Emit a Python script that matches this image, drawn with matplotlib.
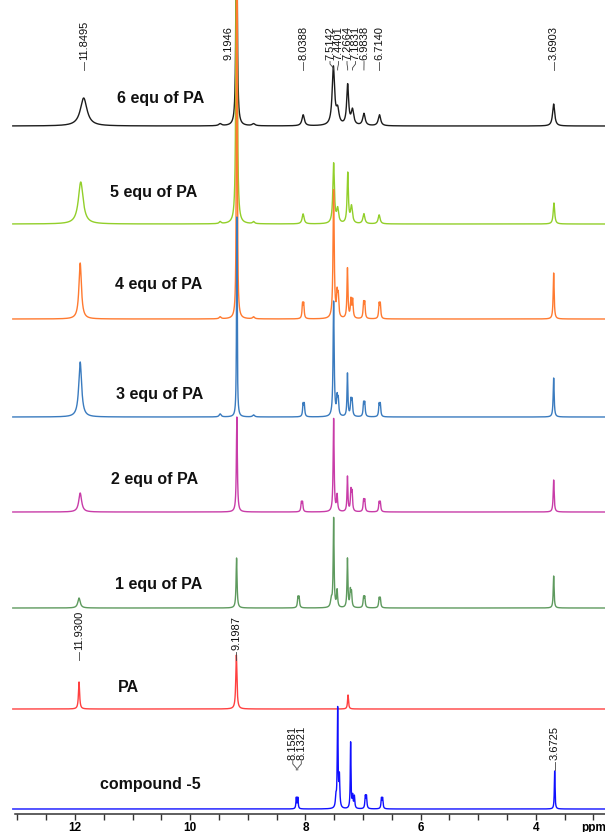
import numpy as np
import matplotlib
matplotlib.use("Agg")
import matplotlib.pyplot as plt

plt.rcParams['font.family'] = ['Liberation Sans', 'DejaVu Sans']

# ---------------- spectra (chemical shift in ppm, intensity, half-width in ppm) ----------------
trace_names = ["6 equ of PA", "5 equ of PA", "4 equ of PA", "3 equ of PA",
               "2 equ of PA", "1 equ of PA", "PA", "compound -5"]

shifts_6eq = [11.8495, 9.48, 9.1946, 8.90, 8.0388, 7.5142, 7.4401, 7.2664, 7.1831, 6.9838, 6.7140, 3.6903]
heights_6eq = [28, 2, 400, 2, 11, 58, 14, 40, 15, 12, 11, 22]
widths_6eq = [0.070, 0.03, 0.009, 0.03, 0.025, 0.025, 0.028, 0.020, 0.026, 0.025, 0.025, 0.022]

shifts_5eq = [11.90, 9.48, 9.1946, 8.90, 8.04, 7.51, 7.44, 7.265, 7.20, 6.985, 6.72, 3.685]
heights_5eq = [42, 2, 700, 2, 10, 60, 14, 50, 17, 10, 9, 21]
widths_5eq = [0.050, 0.02, 0.008, 0.02, 0.020, 0.016, 0.020, 0.013, 0.020, 0.020, 0.020, 0.015]

shifts_4eq = [11.91, 9.48, 9.19, 8.90, 8.05, 8.03, 7.51, 7.45, 7.43, 7.27, 7.21, 7.18,
              6.99, 6.97, 6.72, 6.70, 3.69]
heights_4eq = [56, 2, 800, 2, 14, 14, 128, 22, 20, 50, 18, 18, 15, 15, 14, 14, 46]
widths_4eq = [0.026, 0.02, 0.0055, 0.02, 0.010, 0.010, 0.012, 0.011, 0.011, 0.010, 0.011, 0.011,
              0.010, 0.010, 0.010, 0.010, 0.010]

shifts_3eq = [11.91, 9.48, 9.19, 8.90, 8.04, 8.02, 7.51, 7.45, 7.43, 7.27, 7.21, 7.19,
              6.99, 6.97, 6.72, 6.70, 3.69]
heights_3eq = [55, 3, 200, 2, 12, 12, 115, 17, 15, 43, 15, 15, 13, 13, 12, 12, 39]
widths_3eq = [0.030, 0.02, 0.007, 0.02, 0.010, 0.010, 0.011, 0.011, 0.011, 0.009, 0.011, 0.011,
              0.010, 0.010, 0.010, 0.010, 0.010]

shifts_2eq = [11.91, 9.19, 8.07, 8.05, 7.51, 7.45, 7.27, 7.21, 7.19, 6.99, 6.97, 6.72, 6.70, 3.69]
heights_2eq = [19, 95, 9, 9, 93, 16, 35, 20, 18, 11, 11, 9, 9, 32]
widths_2eq = [0.030, 0.010, 0.010, 0.010, 0.010, 0.011, 0.009, 0.010, 0.010, 0.010, 0.010,
              0.010, 0.010, 0.010]

shifts_1eq = [11.93, 9.195, 8.13, 8.11, 7.55, 7.51, 7.45, 7.27, 7.22, 7.20, 6.99, 6.97, 6.72, 6.70, 3.69]
heights_1eq = [10, 50, 10, 10, 8, 89, 17, 49, 16, 14, 10, 10, 9, 9, 32]
widths_1eq = [0.025, 0.010, 0.010, 0.010, 0.015, 0.009, 0.011, 0.009, 0.010, 0.010, 0.010,
              0.010, 0.010, 0.010, 0.009]

shifts_pa = [11.9300, 9.1987, 7.26]
heights_pa = [27, 54, 14]
widths_pa = [0.012, 0.012, 0.010]

shifts_cmpd = [8.1581, 8.1321, 7.47, 7.44, 7.41, 7.215, 7.18, 7.15, 6.96, 6.94, 6.68, 6.66, 3.6725]
heights_cmpd = [11, 11, 10, 99, 30, 66, 12, 12, 12, 12, 10, 10, 38]
widths_cmpd = [0.008, 0.008, 0.010, 0.008, 0.009, 0.007, 0.009, 0.009, 0.009, 0.009,
               0.009, 0.009, 0.007]

# annotated peak positions (ppm)
labels_6eq = [11.8495, 9.1946, 8.0388, 7.5142, 7.4401, 7.2664, 7.1831, 6.9838, 6.7140, 3.6903]
labels_pa = [11.9300, 9.1987]
labels_cmpd = [8.1581, 8.1321, 3.6725]

tick_values = [12, 10, 8, 6, 4, 3]
tick_labels = ["12", "10", "8", "6", "4", "ppm"]

# ---------------- drawing ----------------
spectra = [
    (shifts_6eq, heights_6eq, widths_6eq),
    (shifts_5eq, heights_5eq, widths_5eq),
    (shifts_4eq, heights_4eq, widths_4eq),
    (shifts_3eq, heights_3eq, widths_3eq),
    (shifts_2eq, heights_2eq, widths_2eq),
    (shifts_1eq, heights_1eq, widths_1eq),
    (shifts_pa, heights_pa, widths_pa),
    (shifts_cmpd, heights_cmpd, widths_cmpd),
]
colors = ["#1c1c1c", "#92cf2a", "#ff7a30", "#3a7bbf", "#c83ca8", "#5e9a5e", "#ff4040", "#1010ff"]
offsets = [688, 590, 495, 397, 302, 206, 105, 5]
name_pos = [(117, 98), (110, 193), (115, 285), (116, 394), (111, 480), (115, 585), (118, 688), (100, 785)]

W, H = 605, 832
fig = plt.figure(figsize=(W / 100, H / 100), dpi=100)
ax_bottom = (H - 814) / H
ax = fig.add_axes([0, ax_bottom, 1, 1 - ax_bottom])

px_per_ppm = 57.6
ppm_left = 12 + 75 / px_per_ppm
ppm_right = 12 - (W - 75) / px_per_ppm
ax.set_xlim(ppm_left, ppm_right)
ax.set_ylim(0, 814)

ppm = np.linspace(13.08, ppm_right, 30000)


def lorentz_sum(x, shifts, heights, widths):
    y = np.zeros_like(x)
    for s, h, g in zip(shifts, heights, widths):
        y += h * g * g / ((x - s) ** 2 + g * g)
    return y


for (s, h, w), c, off in zip(spectra, colors, offsets):
    ax.plot(ppm, off + lorentz_sum(ppm, s, h, w), color=c, lw=1.0, solid_joinstyle='round')

# trace captions
for name, (px, py) in zip(trace_names, name_pos):
    fig.text(px / W, 1 - py / H, name, fontsize=11.5, fontweight='bold', ha='left', va='center',
             color='#111111')

# axis
for side in ("left", "right", "top"):
    ax.spines[side].set_visible(False)
ax.spines['bottom'].set_bounds(13.04, ppm_right)
ax.spines['bottom'].set_linewidth(1.1)
ax.spines['bottom'].set_color('#333333')
ax.set_yticks([])
ax.set_xticks(tick_values)
ax.set_xticklabels(tick_labels, fontsize=8.5, fontweight='bold')
minor = [v for v in np.arange(13.0, 2.9, -0.5) if v not in tick_values]
ax.set_xticks(minor, minor=True)
ax.tick_params(axis='x', which='major', direction='out', length=4, width=1, color='#333333', pad=1.5)
ax.tick_params(axis='x', which='minor', direction='out', length=4, width=1, color='#333333')

# peak annotations (rotated value with a short connector down to the peak)
fig.canvas.draw()
to_px = ax.transData.transform
from_px = ax.transData.inverted().transform


def spread(xs, gap):
    order = np.argsort(xs)
    pos = np.array(xs, dtype=float)[order]
    clusters = [[p] for p in pos]
    changed = True
    while changed:
        changed = False
        new, starts = [], []
        for cl in clusters:
            start = np.mean(cl) - gap * (len(cl) - 1) / 2
            if new and start < starts[-1] + gap * len(new[-1]):
                new[-1] = new[-1] + cl
                starts[-1] = np.mean(new[-1]) - gap * (len(new[-1]) - 1) / 2
                changed = True
                continue
            new.append(list(cl))
            starts.append(start)
        clusters = new
    out = []
    for cl, st in zip(clusters, starts):
        out.extend(st + gap * np.arange(len(cl)))
    res = np.empty(len(xs))
    res[order] = out
    return res


def annotate(values, text_bottom_px, nudges=None, gap=8.5):
    nudges = nudges or {}
    peak_px = [to_px((v, 0))[0] for v in values]
    lab_px = spread(peak_px, gap)
    for v, pk, lb in zip(values, peak_px, lab_px):
        lb = lb + nudges.get(v, 0)
        yb = 814 - text_bottom_px
        xl = from_px((lb, 0))[0]
        xp = from_px((pk, 0))[0]
        ax.text(xl, yb, f"{v:.4f}", rotation=90, ha='center', va='bottom', fontsize=8,
                color='#111111')
        if v in nudges:
            continue
        ax.plot([xl, xl, xp, xp], [yb - 1.5, yb - 4, yb - 8, yb - 10], color='#444444', lw=0.6)


annotate(labels_6eq, 60, nudges={9.1946: -8})
annotate(labels_pa, 650)
annotate(labels_cmpd, 760)

fig.savefig("out.png", dpi=100, facecolor='white')
